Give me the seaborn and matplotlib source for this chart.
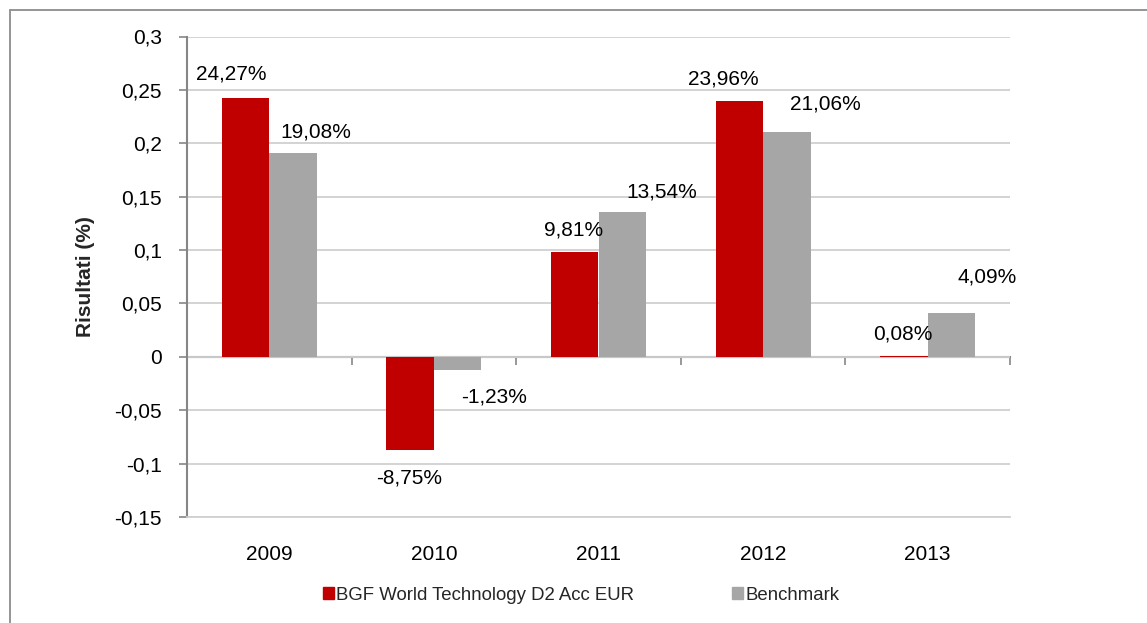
import matplotlib
matplotlib.use("Agg")
import matplotlib.pyplot as plt
import matplotlib.patches as mpatches
import seaborn as sns
import pandas as pd
import numpy as np

years = ["2009", "2010", "2011", "2012", "2013"]
fund_name = "BGF World Technology D2 Acc EUR"
bench_name = "Benchmark"
fund_values = [0.2427, -0.0875, 0.0981, 0.2396, 0.0008]
bench_values = [0.1908, -0.0123, 0.1354, 0.2106, 0.0409]
fund_labels = ["24,27%", "-8,75%", "9,81%", "23,96%", "0,08%"]
bench_labels = ["19,08%", "-1,23%", "13,54%", "21,06%", "4,09%"]
yticks = [-0.15, -0.1, -0.05, 0, 0.05, 0.1, 0.15, 0.2, 0.25, 0.3]
ytick_labels = ["-0,15", "-0,1", "-0,05", "0", "0,05", "0,1", "0,15", "0,2", "0,25", "0,3"]

# label placement (category units, value units) relative to each bar end
fund_lbl_dx = [-0.085, -0.007, -0.006, -0.100, -0.005]
fund_lbl_dy = [0.0236, -0.0242, 0.0225, 0.0227, 0.0224]
bench_lbl_dx = [0.139, 0.220, 0.239, 0.231, 0.216]
bench_lbl_dy = [0.0219, -0.0239, 0.0208, 0.0283, 0.0357]

sns.set_theme(style="white")
plt.rcParams["font.family"] = ["Liberation Sans", "DejaVu Sans"]

df = pd.DataFrame({
    "Anno": years * 2,
    "Serie": [fund_name] * len(years) + [bench_name] * len(years),
    "Valore": fund_values + bench_values,
})

fig = plt.figure(figsize=(11.47, 6.23), dpi=100)
ax = fig.add_axes([187 / 1147, 1 - 517 / 623, (1010 - 187) / 1147, (517 - 36.5) / 623])

BAR_W = 0.578
palette = {fund_name: "#C00000", bench_name: "#A6A6A6"}
sns.barplot(data=df, x="Anno", y="Valore", hue="Serie", palette=palette,
            width=BAR_W, gap=0, saturation=1, ax=ax, legend=False,
            edgecolor="none", linewidth=0, zorder=3)

FS = 15
ax.set_xlim(-0.5, 4.5)
ax.set_ylim(-0.15, 0.3)
ax.set_yticks(yticks)
ax.set_yticklabels(ytick_labels, fontsize=FS)
ax.yaxis.grid(True, color="#D0D0D0", linewidth=1.3, zorder=0)
ax.xaxis.grid(False)
ax.set_axisbelow(True)
ax.tick_params(axis="y", which="major", direction="out", length=6, width=1.2,
               color="#868686", left=True, pad=12)
ax.tick_params(axis="x", length=0, pad=20, labelsize=FS)
for lab in ax.get_xticklabels():
    lab.set_color("black")
for lab in ax.get_yticklabels():
    lab.set_color("black")

for s in ["top", "right"]:
    ax.spines[s].set_visible(False)
ax.spines["left"].set_color("#868686")
ax.spines["left"].set_linewidth(1.5)
ax.spines["bottom"].set_color("#D0D0D0")
ax.spines["bottom"].set_linewidth(1.3)

ax.set_xlabel("")
ax.set_ylabel("Risultati (%)", fontsize=FS, fontweight="bold", labelpad=14)

# zero axis line with category boundary ticks
sec = ax.secondary_xaxis(0.15 / 0.45)
sec.spines["bottom"].set_color("#868686")
sec.spines["bottom"].set_linewidth(1.5)
sec.set_xticks(np.arange(-0.5, len(years), 1.0))
sec.set_xticklabels([])
sec.tick_params(direction="out", length=6, width=1.2, color="#868686")

# data labels
bar_half = BAR_W / 4
for i in range(len(years)):
    fx = i - bar_half
    bx = i + bar_half
    ax.text(fx + fund_lbl_dx[i], fund_values[i] + fund_lbl_dy[i], fund_labels[i],
            ha="center", va="center_baseline", fontsize=FS, color="black", zorder=5)
    ax.text(bx + bench_lbl_dx[i], bench_values[i] + bench_lbl_dy[i], bench_labels[i],
            ha="center", va="center_baseline", fontsize=FS, color="black", zorder=5)

handles = [mpatches.Patch(color=palette[fund_name], label=fund_name),
           mpatches.Patch(color=palette[bench_name], label=bench_name)]
fig.legend(handles=handles, loc="center", bbox_to_anchor=(581 / 1147, 1 - 595 / 623),
           ncol=2, frameon=False, fontsize=13.4, handlelength=0.6, handleheight=0.6,
           handletextpad=0.1, columnspacing=5.3)

frame = mpatches.Rectangle((10 / 1147, -0.05), 1.2, 1 - 10 / 623 + 0.05,
                           transform=fig.transFigure, fill=False,
                           edgecolor="#8C8C8C", linewidth=1.3)
fig.patches.append(frame)

fig.savefig("out.png", dpi=100)
